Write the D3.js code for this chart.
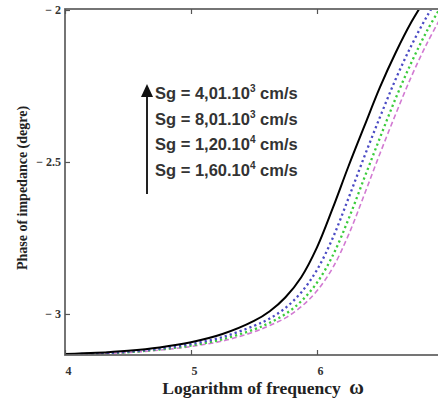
<!DOCTYPE html>
<html><head><meta charset="utf-8">
<script src="https://cdn.jsdelivr.net/npm/d3@7"></script>
<style>body{margin:0;background:#fff}svg{display:block}</style>
</head><body>
<script>
const xs       = [4.0, 4.25, 4.5, 4.75, 5.0, 5.25, 5.5, 5.625, 5.75, 5.875, 6.0, 6.125, 6.25, 6.375, 6.5, 6.625, 6.75, 6.875, 7.0];
const sBlack   = [-3.132, -3.128, -3.121, -3.110, -3.093, -3.066, -3.023, -2.991, -2.945, -2.879, -2.781, -2.652, -2.514, -2.383, -2.254, -2.140, -2.039, -1.954, -1.874];
const sBlue    = [-3.133, -3.130, -3.124, -3.114, -3.099, -3.076, -3.039, -3.015, -2.980, -2.929, -2.855, -2.750, -2.619, -2.483, -2.352, -2.227, -2.116, -2.019, -1.935];
const sGreen   = [-3.134, -3.131, -3.126, -3.117, -3.104, -3.083, -3.051, -3.029, -3.000, -2.958, -2.897, -2.808, -2.688, -2.553, -2.420, -2.290, -2.172, -2.067, -1.978];
const sMagenta = [-3.134, -3.131, -3.127, -3.119, -3.107, -3.089, -3.059, -3.038, -3.013, -2.976, -2.924, -2.848, -2.740, -2.608, -2.472, -2.342, -2.218, -2.108, -2.012];
const xTicks = [4, 5, 6, 7];
const xTickLabels = ["4", "5", "6", ""];
const yTicks = [-2, -2.5, -3];
const yTickLabels = ["\u2212 2", "\u2212 2.5", "\u2212 3"];
const legendLabels = [["Sg = 4,01.10","3"," cm/s"],["Sg = 8,01.10","3"," cm/s"],["Sg = 1,20.10","4"," cm/s"],["Sg = 1,60.10","4"," cm/s"]];

const W = 438, H = 400;
const L = 65, T = 10, R = 443, B = 355;
const svg = d3.select("body").append("svg").attr("width", W).attr("height", H);
const x = d3.scaleLinear().domain([4, 7]).range([L, R]);
const y = d3.scaleLinear().domain([-3.135, -2]).range([B, T]);

svg.append("defs").append("clipPath").attr("id","clip")
  .append("rect").attr("x", L).attr("y", T).attr("width", R-L).attr("height", B-T);

const line = d3.line().x((d,i)=>x(xs[i])).y(d=>y(d)).curve(d3.curveCatmullRom.alpha(0.5));
const series = [
  {v: sMagenta, c:"#d27ad2", w:1.6, dash:"5,3"},
  {v: sGreen, c:"#3ccc3c", w:2.3, dash:"2.2,3"},
  {v: sBlue, c:"#4b4bc4", w:2.3, dash:"2.2,3"},
  {v: sBlack, c:"#000", w:2, dash:null}
];
const g = svg.append("g").attr("clip-path","url(#clip)");
series.forEach(s=>{
  g.append("path").datum(s.v).attr("d", line).attr("fill","none")
   .attr("stroke", s.c).attr("stroke-width", s.w)
   .attr("stroke-dasharray", s.dash);
});

// frame
svg.append("rect").attr("x", L).attr("y", T-1).attr("width", R-L).attr("height", B-T+1)
  .attr("fill","none").attr("stroke","#666").attr("stroke-width",1.8);

// axes (ticks inside)
const xb = svg.append("g").attr("transform",`translate(0,${B})`)
  .call(d3.axisBottom(x).tickValues(xTicks).tickSizeInner(-5).tickSizeOuter(0).tickPadding(11)
    .tickFormat((d,i)=>xTickLabels[i]));
const xt = svg.append("g").attr("transform",`translate(0,${T-1})`)
  .call(d3.axisTop(x).tickValues(xTicks).tickSizeInner(-5).tickSizeOuter(0).tickFormat(""));
const yl = svg.append("g").attr("transform",`translate(${L},0)`)
  .call(d3.axisLeft(y).tickValues(yTicks).tickSizeInner(-5).tickSizeOuter(0).tickPadding(4)
    .tickFormat((d,i)=>yTickLabels[i]));
[xb, xt, yl].forEach(a=>{
  a.select(".domain").remove();
  a.selectAll(".tick line").attr("stroke","#555").attr("stroke-width",1.2);
  a.selectAll("text").attr("font-family","'Liberation Serif', 'Times New Roman', serif")
   .attr("font-weight","bold").attr("font-size",12).attr("fill","#333");
});
xb.selectAll("text").attr("dx", 3);

// axis labels
svg.append("text").attr("x", 263).attr("y", 394).attr("text-anchor","middle")
  .attr("font-family","'Liberation Serif', 'Times New Roman', serif").attr("font-weight","bold")
  .attr("font-size",17.5).attr("fill","#222")
  .text("Logarithm of frequency ").append("tspan").attr("font-size",20).attr("dx",4).text("\u03C9");
svg.append("text").attr("transform","translate(27,188) rotate(-90)").attr("text-anchor","middle")
  .attr("font-family","'Liberation Serif', 'Times New Roman', serif").attr("font-weight","bold")
  .attr("font-size",14).attr("fill","#222").text("Phase of impedance (degre)");

// legend arrow
svg.append("line").attr("x1",147).attr("x2",147).attr("y1",93).attr("y2",194)
  .attr("stroke","#222").attr("stroke-width",2);
svg.append("path").attr("d","M141,97 L147,84 L153,97 Z").attr("fill","#111");

const lg = svg.append("g");
legendLabels.forEach((t,i)=>{
  const tx = lg.append("text").attr("x",155).attr("y",99 + i*25.5)
    .attr("font-family","'Liberation Sans Narrow', 'Arial Narrow', 'Liberation Sans', sans-serif")
    .attr("font-weight","bold").attr("font-size",16.5).attr("fill","#333");
  tx.append("tspan").text(t[0]);
  tx.append("tspan").attr("dy",-7).attr("font-size",10).text(t[1]);
  tx.append("tspan").attr("dy",7).text(t[2]);
});
</script>
</body></html>
